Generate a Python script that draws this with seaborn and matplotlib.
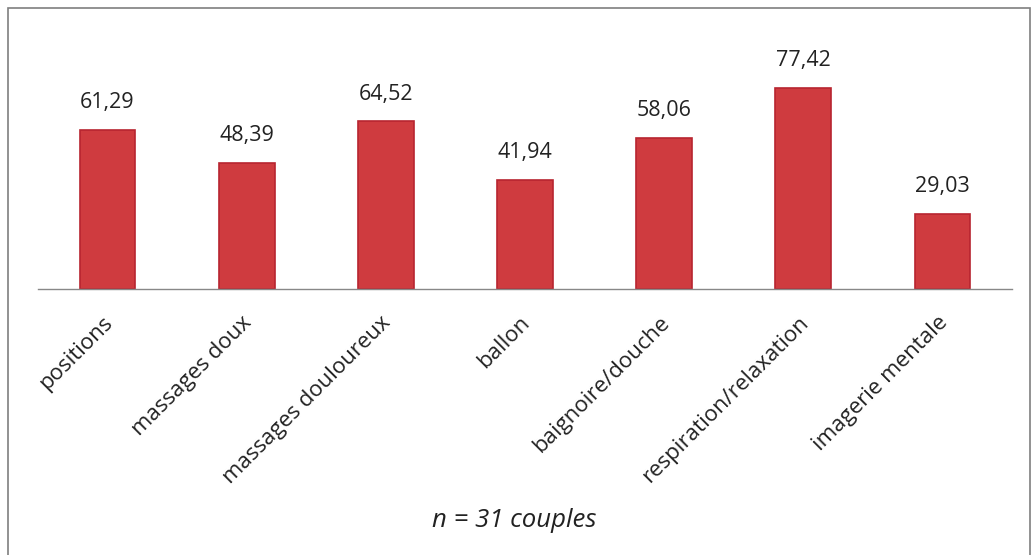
import pandas as pd
import seaborn as sns
import matplotlib.pyplot as plt
from matplotlib.patches import Rectangle
from matplotlib import transforms

# données
categories = ['positions', 'massages doux', 'massages douloureux', 'ballon',
              'baignoire/douche', 'respiration/relaxation', 'imagerie mentale']
pourcentages = [61.29, 48.39, 64.52, 41.94, 58.06, 77.42, 29.03]
note = "n = 31 couples"

sns.set_theme(style="white")
plt.rcParams['font.family'] = ['Open Sans', 'DejaVu Sans']

df = pd.DataFrame({'cat': categories, 'val': pourcentages})

fig = plt.figure(figsize=(10.35, 5.55), dpi=100)
ax = fig.add_axes([0.0367, 0.4793, 0.941, 0.4685])

sns.barplot(data=df, x='cat', y='val', ax=ax, color='#CF3B3F',
            width=0.4, saturation=1, edgecolor='#B82530', linewidth=1.2)

ax.set_ylim(0, 100)
ax.set_xlim(-0.5, len(categories) - 0.5)
ax.set_xlabel('')
ax.set_ylabel('')
ax.set_yticks([])
for s in ['top', 'right', 'left']:
    ax.spines[s].set_visible(False)
ax.spines['bottom'].set_color('#888888')
ax.spines['bottom'].set_linewidth(1.0)
ax.tick_params(axis='x', length=0, pad=4)

# étiquettes de valeurs (virgule décimale)
for i, v in enumerate(pourcentages):
    ax.annotate(f"{v:.2f}".replace('.', ','), (i, v), xytext=(0, 12),
                textcoords='offset points', ha='center', va='bottom',
                fontsize=15.5, color='#222222')

# étiquettes de l'axe x inclinées
offset = transforms.ScaledTranslation(2 / 100, -25 / 100, fig.dpi_scale_trans)
ax.set_xticks(range(len(categories)))
ax.set_xticklabels(categories, rotation=45, ha='right', va='center',
                   rotation_mode='anchor', fontsize=16, color='#222222')
for lab in ax.get_xticklabels():
    lab.set_transform(lab.get_transform() + offset)

fig.text(0.497, 0.062, note, ha='center', va='center', fontsize=18.5,
         style='italic', color='#222222')

# cadre du graphique
fig.patches.append(Rectangle((8 / 1035, -0.02), 1022 / 1035, 1 - 8 / 555 + 0.02,
                             transform=fig.transFigure, fill=False,
                             edgecolor='#7f7f7f', linewidth=1.2))

fig.savefig('out.png', dpi=100)
